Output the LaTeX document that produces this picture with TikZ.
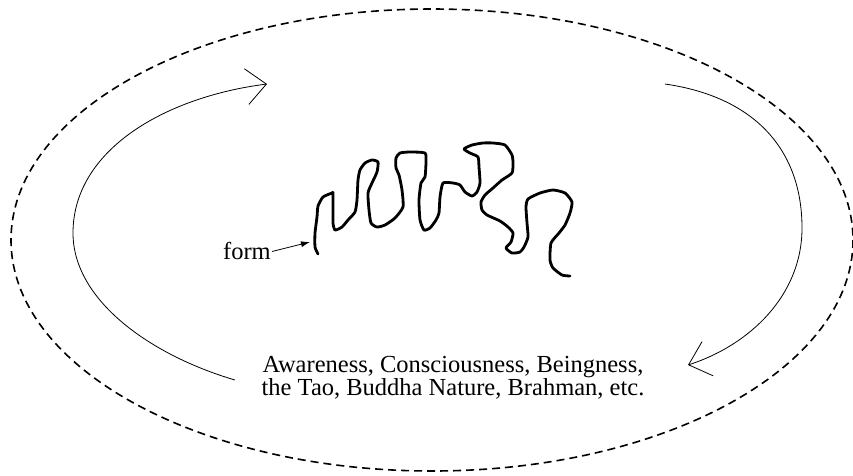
\documentclass[tikz,border=0pt]{standalone}
\usepackage{fontspec}
\setmainfont{Liberation Serif}
\usetikzlibrary{arrows.meta}

\begin{document}
\begin{tikzpicture}[
    x=1pt, y=-1pt,
    field/.style={line width=1.6pt, dash pattern=on 8pt off 5pt},
    cycle/.style={line width=0.8pt, -{Straight Barb[length=20pt, width=36pt, line width=0.8pt]}},
    squiggle/.style={line width=2.8pt, line cap=round, line join=round},
    pointer/.style={-{Latex[length=9pt, width=6pt]}, line width=0.8pt},
    label/.style={font=\fontsize{24.5}{23}\selectfont, inner sep=0pt}
]
\useasboundingbox (0,0) rectangle (853,475);
% outer field
\draw[field] (432,240) ellipse [x radius=421, y radius=231];
% text
\node[label, align=center] (aware) at (453,378) {Awareness, Consciousness, Beingness,\\the Tao, Buddha Nature, Brahman, etc.};
% the cycle
\coordinate (lstart) at (235,380);
\coordinate (lside) at (73,233);
\coordinate (ltip) at (267,84);
\coordinate (rstart) at (665,84);
\coordinate (rside) at (802,228);
\coordinate (rtip) at (688,365);
\draw[cycle] (lstart) .. controls (150,355) and (73,300) .. (lside)
    .. controls (73,150) and (165,97) .. (ltip);
\draw[cycle] (rstart) .. controls (755,97) and (802,150) .. (rside)
    .. controls (802,295) and (750,345) .. (rtip);
% form
\draw[squiggle] plot[smooth, tension=0.35] coordinates {
    (318,254) (315,247) (315,233) (317,217) (318,206) (323,197) (332,193) (333,193)
    (333,207) (333,223) (335,230) (342,227) (348,220) (355,212) (357,200) (358,180)
    (360,170) (365,163) (372,160) (378,162) (377,172) (372,183) (368,193) (369,210)
    (371,223) (377,227) (385,225) (395,218) (403,207) (402,190) (399,175) (396,168)
    (396,158) (400,153) (410,152) (425,153) (426,162) (425,177) (421,183) (419,200)
    (420,220) (424,230) (430,228) (436,220) (439,213) (440,197) (443,183) (453,183)
    (460,185) (465,192) (472,196) (477,192) (480,183) (479,167) (478,157) (470,153)
    (464,149) (472,145) (483,143) (493,143) (505,145) (512,155) (513,163) (512,173)
    (502,180) (493,188) (485,195) (481,202) (482,210) (487,215) (500,221) (508,227)
    (513,233) (511,242) (506,248) (512,253) (520,252) (524,247) (528,237) (527,223)
    (526,207) (528,199) (540,193) (553,190) (565,193) (572,202) (570,213) (565,225)
    (559,233) (551,243) (550,260) (553,268) (562,275) (570,276)};
\coordinate (formtip) at (310,242);
\node[label, anchor=base east] (formlbl) at (271,259) {form};
\draw[pointer] ([xshift=1pt, yshift=-1pt]formlbl.east) -- (formtip);
\end{tikzpicture}
\end{document}
